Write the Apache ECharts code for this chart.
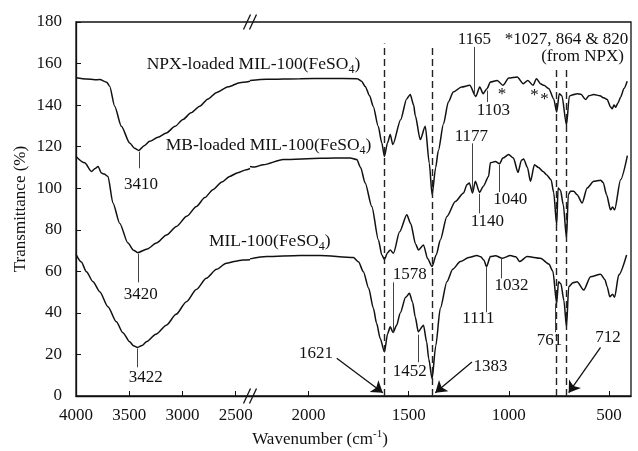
<!DOCTYPE html>
<html>
<head>
<meta charset="utf-8">
<script src="https://cdn.jsdelivr.net/npm/echarts@6/dist/echarts.min.js"></script>
</head>
<body style="margin:0">
<div id="container" style="width:638px;height:451px"></div>
<script>
// [wavenumber (cm-1), transmittance (%)]
var npxData = [
  [4000,153.2],[3900,152.6],[3824,152.2],[3777,152.3],[3712,151],[3684,149.1],[3637,139.5],[3574,129.8],
  [3496,121.8],[3450,119.2],[3410,118.2],[3360,120.5],[3308,122.6],[3230,124.5],[3151,126.6],[3070,129.8],
  [2995,133.1],[2920,136.3],[2838,139.5],[2760,143],[2682,146],[2570,148.8],[2463,150.8],[2366,151.5],
  [2292,151.8],[2209,152.4],[2042,152.7],[1900,152.8],[1757,152.7],[1735,151.5],[1717,149],[1695,144.5],
  [1677,139.5],[1652,129.8],[1634,121.8],[1621,115.3],[1605,122],[1592,125.8],[1579,121],[1540,133],
  [1510,143],[1492,145.1],[1475,140],[1467,135],[1442,123.4],[1417,129.8],[1397,112],[1383,96.9],
  [1365,110],[1352,118],[1326,131],[1302,141.5],[1277,146.3],[1236,148.7],[1195,149.5],[1165,144.2],
  [1145,148.7],[1128,145.5],[1109,147.9],[1092,151.1],[1058,151.9],[1029,149.5],[1000,153.0],[958,153.5],
  [928,150.3],[905,151.9],[879,149.5],[862,152.7],[842,150.3],[825,149.5],[800,147.9],[776,143],
  [761,136.7],[748,145.5],[735,144.5],[712,130.3],[698,144.3],[680,145],[659,145.5],[640,145.2],
  [617,142.7],[600,144.5],[576,145.1],[545,144.5],[526,143.5],[509,142.7],[492,139.1],[484,138.2],
  [475,140],[467,139],[455,141],[442,143.8],[425,148],[409,151.5]
];
var mbData = [
  [4000,115.3],[3918,112.2],[3855,108.1],[3820,109.5],[3793,110.5],[3761,107.3],[3735,106.8],[3700,105.7],
  [3653,92.9],[3590,83.2],[3512,73.6],[3460,70.2],[3420,69.0],[3330,70.8],[3245,73.6],[3150,77.5],
  [3057,81.6],[2960,86.5],[2869,91.2],[2790,95.5],[2714,99.3],[2630,103],[2557,105.7],[2480,107.5],
  [2400,108.9],[2366,109.5],
  [2292,110.5],[2270,110.2],[2226,111.3],[2126,113.8],[1942,114.4],[1792,114.6],[1759,113.8],[1740,110],
  [1717,102.5],[1684,91.2],[1651,75.1],[1634,67.9],[1621,65.8],[1605,69],[1592,70.3],[1576,68.7],
  [1545,79],[1509,87.2],[1490,83],[1465,73],[1451,70.3],[1426,72.7],[1405,66],[1383,62.3],
  [1362,68],[1342,75.1],[1309,86.4],[1267,93.6],[1226,97.7],[1209,101.7],[1197,102.5],[1181,97.7],
  [1167,103.3],[1146,98.0],[1127,101],[1101,105.7],[1092,112.2],[1067,112.9],[1046,111.8],[1030,114.5],
  [1001,116.2],[977,114.5],[954,107.6],[937,113.5],[926,114.1],[907,110],[892,103.3],[872,111.3],
  [852,110],[829,108.1],[812,106.5],[789,104.1],[776,98],[761,82.4],[754,100.1],[742,99],
  [728,92],[712,76.0],[703,96.9],[692,98.5],[676,98.5],[659,96.9],[634,92.9],[609,100.1],
  [576,103.3],[542,103.8],[529,102.8],[512,96.9],[492,89.6],[482,91],[472,89.6],[442,104.1],[408,115.7]
];
var milData = [
  [4000,68.2],[3950,64.5],[3902,59.8],[3840,55],[3777,50.2],[3700,43],[3621,35.7],[3560,30.5],
  [3496,26.1],[3460,24.2],[3422,23.4],[3380,24.3],[3339,26.1],[3250,29.7],[3151,34.1],[3060,39.3],
  [2963,45.4],[2870,51.3],[2776,56.7],[2680,61],[2588,63.9],[2500,64.9],[2432,65.5],[2366,65.6],
  [2292,66.0],[2209,67.1],[2042,67.6],[1942,67.6],[1776,66.6],[1750,64.5],[1726,59.8],[1700,52],
  [1676,42.2],[1660,35],[1642,27.7],[1621,21.2],[1605,30],[1592,33.3],[1578,30.6],[1560,34],
  [1542,40],[1515,47.5],[1496,49.4],[1480,45],[1467,38],[1452,30.9],[1426,34.1],[1410,26],
  [1400,18],[1383,8.4],[1365,24],[1342,42.2],[1309,55.0],[1280,61],[1242,64.7],[1200,66.6],
  [1159,67.6],[1140,67],[1125,65.5],[1111,62.3],[1092,67.1],[1067,67.5],[1032,66.3],[992,67.6],
  [965,67],[946,64.7],[909,67.1],[842,66.3],[800,63.5],[780,60],[761,44.6],[752,55.0],
  [740,54],[725,46],[712,33.3],[701,52.6],[680,54.5],[659,55.0],[626,51.0],[592,57.4],
  [542,58.6],[520,56],[509,52.6],[496,47.8],[482,49],[472,47.5],[451,58.3],[412,67.9]
];

var leftTicks = [4000, 3500, 3000, 2500];
var rightTicks = [2000, 1500, 1000, 500];
var dashedBands = [[1621, 169.7], [1383, 169.2], [761, 157.3], [712, 157.3]];

// text notes: label text, label anchor, optional leader line
var leftNotes = [
  {text: '3410', at: [3390, 101.6], line: [[3410, 117.6], [3410, 109.6]]},
  {text: '3420', at: [3392, 48.9], line: [[3418, 68.4], [3418, 54.7]]},
  {text: '3422', at: [3345, 9.0], line: [[3422, 22.8], [3422, 13.8]]}
];
var curveNames = [
  {text: 'NPX-loaded MIL-100(FeSO', at: [3336, 159.5]},
  {text: 'MB-loaded MIL-100(FeSO', at: [3158, 120.6]},
  {text: 'MIL-100(FeSO', at: [2752, 74.4]}
];
var rightNotes = [
  {text: '1165', at: [1172, 171.6], line: [[1171, 168], [1171, 144.7]]},
  {text: '1103', at: [1077, 137.5], line: [[1109, 147], [1109, 141.5]]},
  {text: '1177', at: [1187, 125], line: [[1184, 121.6], [1184, 98.5]]},
  {text: '1140', at: [1107, 84.1], line: [[1146, 97.3], [1146, 87.9]]},
  {text: '1040', at: [993, 94.7], line: [[1046, 111.3], [1046, 98.2]]},
  {text: '1578', at: [1495, 58.6], line: [[1576, 54.7], [1576, 31]]},
  {text: '1452', at: [1495, 11.9], line: [[1451, 29.5], [1451, 16.2]]},
  {text: '1111', at: [1152, 37.4], line: [[1114, 62.3], [1114, 40.3]]},
  {text: '1032', at: [987, 53.3], line: [[1040, 66], [1040, 56.6]]},
  {text: '761', at: [797, 26.8], line: [[766, 44.6], [766, 30.7]]},
  {text: '712', at: [505, 28.2]},
  {text: '1621', at: [1962, 20.6]},
  {text: '1383', at: [1092, 14.3]},
  {text: '*', at: [1034, 145.2]},
  {text: '*', at: [872, 144.4]},
  {text: '*', at: [822, 142.5]},
  {text: '*1027, 864 & 820', at: [712, 171.6]},
  {text: '(from NPX)', at: [632, 163.4]}
];
var arrows = [
  [[1859, 18.2], [1629, 1.6]],
  [[1184, 16.4], [1367, 1.6]],
  [[542, 23.4], [701, 1.6]]
];

var FONT = 'Liberation Serif';
var INK = '#111';
var chart = echarts.init(document.getElementById('container'));

function noteMarks(notes) {
  return notes.map(function (n) {
    return {name: n.text, coord: n.at};
  });
}
function leaderLines(notes) {
  var out = [];
  notes.forEach(function (n) {
    if (n.line) out.push([{coord: n.line[0]}, {coord: n.line[1]}]);
  });
  return out;
}

var labelStyle = {show: true, position: 'inside', color: INK, fontFamily: FONT, fontSize: 17,
  formatter: function (p) { return p.name; }};

function spectrum(data, side, extra) {
  var s = {
    type: 'line',
    xAxisIndex: side, yAxisIndex: side,
    data: data.filter(function (p) { return side === 0 ? p[0] >= 2366 : p[0] <= 2292; }),
    showSymbol: false, smooth: 0.25, smoothMonotone: 'x',
    lineStyle: {color: INK, width: 1.5},
    silent: true
  };
  return Object.assign(s, extra || {});
}

function xAx(grid, min, max, ticks) {
  return {
    type: 'value', gridIndex: grid, min: min, max: max, inverse: true, position: 'bottom',
    splitLine: {show: false},
    axisLine: {show: true, onZero: false, lineStyle: {color: INK, width: 1.3}},
    axisTick: {inside: true, length: 5, customValues: ticks, lineStyle: {color: INK}},
    axisLabel: {customValues: ticks, color: INK, fontFamily: FONT, fontSize: 17, margin: 11,
      formatter: function (v) { return String(v); }}
  };
}

var option = {
  animation: false,
  grid: [
    {left: 76, top: 22, width: 174, bottom: 55},
    {left: 250, top: 22, right: 7, bottom: 55},
    // full plot box, only used for its border
    {left: 76, top: 22, right: 7, bottom: 55, show: true, borderColor: INK, borderWidth: 1.3,
      backgroundColor: 'transparent'}
  ],
  xAxis: [
    xAx(0, 2366, 4000, leftTicks),
    xAx(1, 390, 2292, rightTicks),
    {type: 'value', gridIndex: 2, show: false, min: 0, max: 1}
  ],
  yAxis: [
    {type: 'value', gridIndex: 0, min: 0, max: 180, interval: 20, position: 'left', splitLine: {show: false},
      axisLine: {show: true, onZero: false, lineStyle: {color: INK, width: 1.3}},
      axisTick: {show: true, inside: true, length: 5, lineStyle: {color: INK}},
      axisLabel: {color: INK, fontFamily: FONT, fontSize: 17, margin: 14},
      name: 'Transmittance (%)', nameLocation: 'middle', nameGap: 47,
      nameTextStyle: {color: INK, fontFamily: FONT, fontSize: 17}},
    {type: 'value', gridIndex: 1, min: 0, max: 180, interval: 20, position: 'right',
      splitLine: {show: false}, axisTick: {show: false}, axisLabel: {show: false},
      axisLine: {show: false}},
    {type: 'value', gridIndex: 2, show: false, min: 0, max: 1}
  ],
  series: [
    spectrum(npxData, 0),
    spectrum(mbData, 0),
    spectrum(milData, 0, {
      markLine: {silent: true, symbol: 'none', label: {show: false},
        lineStyle: {color: '#444', width: 1, type: 'solid'}, data: leaderLines(leftNotes)},
      markPoint: {silent: true, symbolSize: 0, label: labelStyle,
        data: noteMarks(leftNotes).concat(curveNames.map(function (c) {
          return {name: c.text, coord: c.at, label: {align: 'left',
            formatter: '{m|' + c.text + '}{s|4}{m|)}',
            rich: {m: {fontFamily: FONT, fontSize: 17.5, color: INK, lineHeight: 22, verticalAlign: 'middle'},
                   s: {fontFamily: FONT, fontSize: 12, color: INK, verticalAlign: 'bottom'}}}};
        }))}
    }),
    spectrum(npxData, 1),
    spectrum(mbData, 1, {
      markLine: {silent: true, symbol: ['none', 'arrow'], symbolSize: 11, label: {show: false},
        lineStyle: {color: INK, width: 1.3, type: 'solid'},
        data: arrows.map(function (a) { return [{coord: a[0]}, {coord: a[1]}]; })}
    }),
    spectrum(milData, 1, {
      markLine: {silent: true, symbol: 'none', label: {show: false},
        data: dashedBands.map(function (b) {
          return [{coord: [b[0], 0], lineStyle: {color: '#222', width: 1.4, type: [7, 4]}},
                  {coord: [b[0], b[1]]}];
        }).concat(leaderLines(rightNotes).map(function (l) {
          l[0].lineStyle = {color: '#444', width: 1, type: 'solid'};
          return l;
        }))},
      markPoint: {silent: true, symbolSize: 0, label: labelStyle, data: noteMarks(rightNotes)}
    })
  ]
};
chart.setOption(option);

// axis break marks and the x-axis title
var pTL = chart.convertToPixel({seriesIndex: 0}, [4000, 180]);
var pBrk = chart.convertToPixel({seriesIndex: 0}, [2366, 0]);
var frameStyle = {stroke: INK, lineWidth: 1.3};
var marks = [];
[pBrk[1], pTL[1]].forEach(function (y) {
  [-3, 3].forEach(function (dx) {
    marks.push({type: 'line', shape: {x1: pBrk[0] + dx - 3.5, y1: y + 7.5, x2: pBrk[0] + dx + 3.5, y2: y - 7.5},
      style: frameStyle});
  });
});
marks.push({type: 'text', x: 320, y: 440, style: {
  text: '{m|Wavenumber (cm}{p|-1}{m|)}', align: 'center', verticalAlign: 'middle',
  rich: {m: {fontFamily: FONT, fontSize: 17, fill: INK, lineHeight: 22, verticalAlign: 'middle'},
         p: {fontFamily: FONT, fontSize: 11, fill: INK, verticalAlign: 'top'}}}});
chart.setOption({graphic: marks});
</script>
</body>
</html>
